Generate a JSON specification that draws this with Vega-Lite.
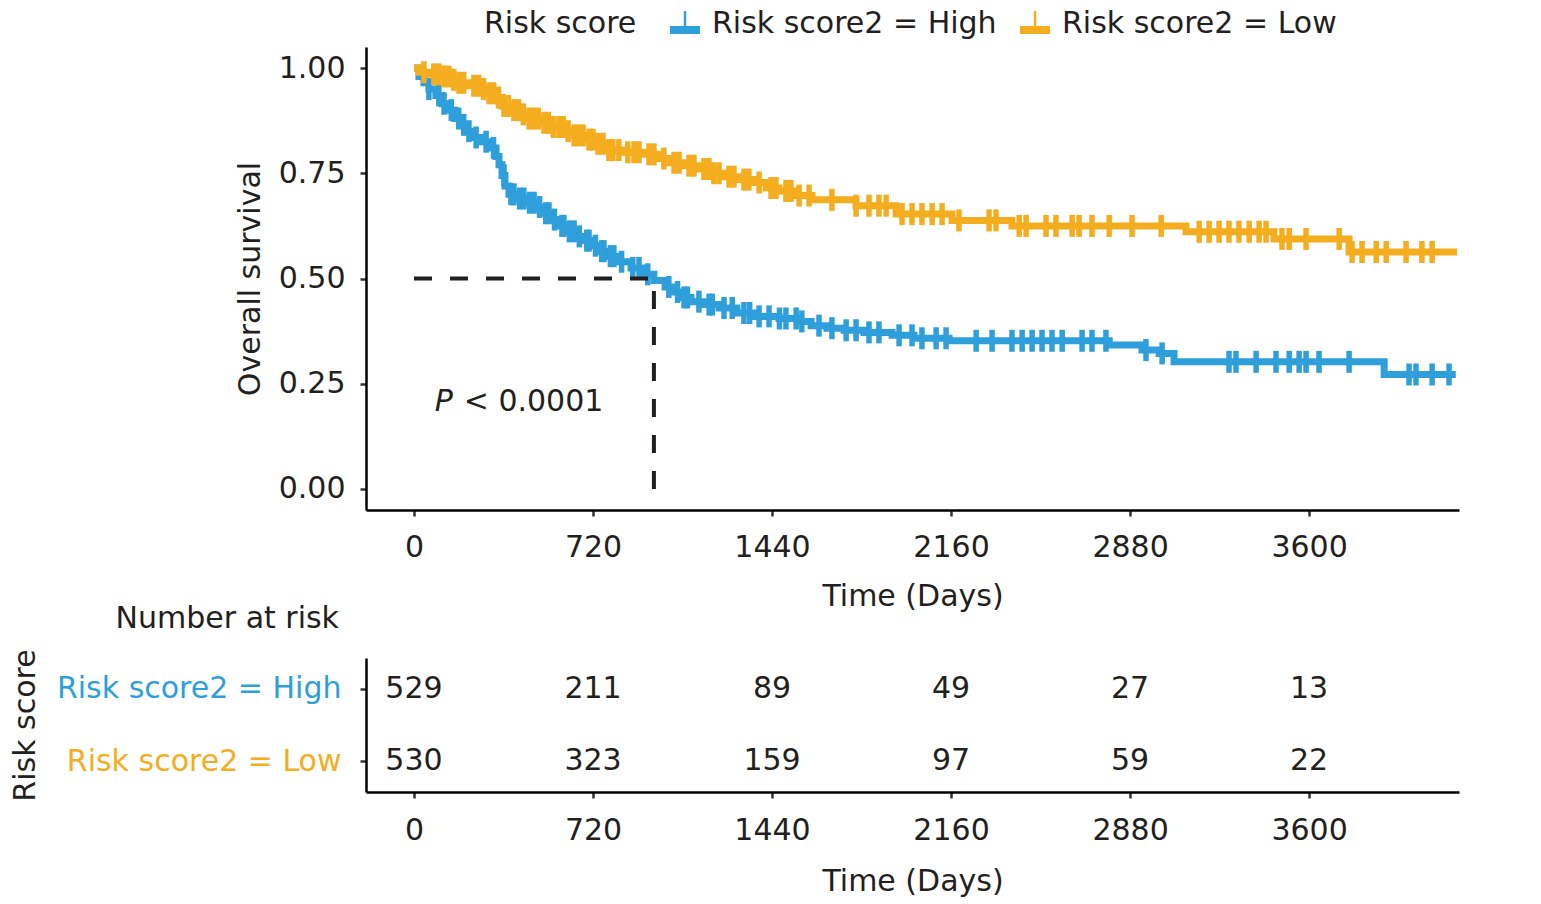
{
  "$schema": "https://vega.github.io/schema/vega-lite/v6.json",
  "padding": {"left": 10, "top": 9, "right": 20, "bottom": 5},
  "background": "white",
  "bounds": "flush",
  "spacing": 148,
  "config": {
    "font": "DejaVu Sans",
    "view": {"stroke": null},
    "axis": {
      "grid": false,
      "domainColor": "#000000",
      "domainWidth": 2.5,
      "tickColor": "#333333",
      "tickWidth": 2.5,
      "tickSize": 6,
      "labelFont": "DejaVu Sans",
      "labelFontSize": 30,
      "labelColor": "#231f20",
      "labelLimit": 500,
      "maxExtent": 500,
      "titleFont": "DejaVu Sans",
      "titleFontSize": 30,
      "titleFontWeight": "normal",
      "titleColor": "#231f20"
    },
    "legend": {
      "labelFont": "DejaVu Sans",
      "labelFontSize": 30,
      "labelColor": "#231f20",
      "labelLimit": 500,
      "titleFont": "DejaVu Sans",
      "titleFontSize": 30,
      "titleFontWeight": "normal",
      "titleColor": "#231f20",
      "titleLimit": 500
    }
  },
  "datasets": {
    "curves": [
      {"g": "Risk score2 = High", "t": 0, "s": 1.0},
      {"g": "Risk score2 = High", "t": 20, "s": 0.98},
      {"g": "Risk score2 = High", "t": 40, "s": 0.965},
      {"g": "Risk score2 = High", "t": 60, "s": 0.95},
      {"g": "Risk score2 = High", "t": 88, "s": 0.935},
      {"g": "Risk score2 = High", "t": 113, "s": 0.915},
      {"g": "Risk score2 = High", "t": 141, "s": 0.9},
      {"g": "Risk score2 = High", "t": 165, "s": 0.88},
      {"g": "Risk score2 = High", "t": 189, "s": 0.865},
      {"g": "Risk score2 = High", "t": 213, "s": 0.85},
      {"g": "Risk score2 = High", "t": 241, "s": 0.835},
      {"g": "Risk score2 = High", "t": 270, "s": 0.825},
      {"g": "Risk score2 = High", "t": 302, "s": 0.81},
      {"g": "Risk score2 = High", "t": 330, "s": 0.79},
      {"g": "Risk score2 = High", "t": 342, "s": 0.77},
      {"g": "Risk score2 = High", "t": 354, "s": 0.745},
      {"g": "Risk score2 = High", "t": 366, "s": 0.72},
      {"g": "Risk score2 = High", "t": 382, "s": 0.70},
      {"g": "Risk score2 = High", "t": 414, "s": 0.69},
      {"g": "Risk score2 = High", "t": 455, "s": 0.68},
      {"g": "Risk score2 = High", "t": 495, "s": 0.67},
      {"g": "Risk score2 = High", "t": 523, "s": 0.655},
      {"g": "Risk score2 = High", "t": 551, "s": 0.64},
      {"g": "Risk score2 = High", "t": 583, "s": 0.625},
      {"g": "Risk score2 = High", "t": 615, "s": 0.612},
      {"g": "Risk score2 = High", "t": 652, "s": 0.6},
      {"g": "Risk score2 = High", "t": 684, "s": 0.59},
      {"g": "Risk score2 = High", "t": 716, "s": 0.578},
      {"g": "Risk score2 = High", "t": 744, "s": 0.565},
      {"g": "Risk score2 = High", "t": 784, "s": 0.553},
      {"g": "Risk score2 = High", "t": 824, "s": 0.54},
      {"g": "Risk score2 = High", "t": 873, "s": 0.525},
      {"g": "Risk score2 = High", "t": 925, "s": 0.51},
      {"g": "Risk score2 = High", "t": 965, "s": 0.495},
      {"g": "Risk score2 = High", "t": 1010, "s": 0.48},
      {"g": "Risk score2 = High", "t": 1046, "s": 0.468},
      {"g": "Risk score2 = High", "t": 1078, "s": 0.455},
      {"g": "Risk score2 = High", "t": 1114, "s": 0.445},
      {"g": "Risk score2 = High", "t": 1166, "s": 0.438},
      {"g": "Risk score2 = High", "t": 1227, "s": 0.43},
      {"g": "Risk score2 = High", "t": 1299, "s": 0.418},
      {"g": "Risk score2 = High", "t": 1368, "s": 0.41},
      {"g": "Risk score2 = High", "t": 1468, "s": 0.405},
      {"g": "Risk score2 = High", "t": 1549, "s": 0.398},
      {"g": "Risk score2 = High", "t": 1597, "s": 0.388},
      {"g": "Risk score2 = High", "t": 1661, "s": 0.382},
      {"g": "Risk score2 = High", "t": 1730, "s": 0.377},
      {"g": "Risk score2 = High", "t": 1810, "s": 0.372},
      {"g": "Risk score2 = High", "t": 1923, "s": 0.365},
      {"g": "Risk score2 = High", "t": 2011, "s": 0.358},
      {"g": "Risk score2 = High", "t": 2152, "s": 0.352},
      {"g": "Risk score2 = High", "t": 2796, "s": 0.342},
      {"g": "Risk score2 = High", "t": 2928, "s": 0.33},
      {"g": "Risk score2 = High", "t": 2997, "s": 0.322},
      {"g": "Risk score2 = High", "t": 3057, "s": 0.302},
      {"g": "Risk score2 = High", "t": 3902, "s": 0.272},
      {"g": "Risk score2 = High", "t": 4190, "s": 0.272},
      {"g": "Risk score2 = Low", "t": 0, "s": 1.0},
      {"g": "Risk score2 = Low", "t": 20, "s": 0.99},
      {"g": "Risk score2 = Low", "t": 60, "s": 0.985},
      {"g": "Risk score2 = Low", "t": 101, "s": 0.98},
      {"g": "Risk score2 = Low", "t": 149, "s": 0.972},
      {"g": "Risk score2 = Low", "t": 181, "s": 0.965},
      {"g": "Risk score2 = Low", "t": 221, "s": 0.958},
      {"g": "Risk score2 = Low", "t": 261, "s": 0.95},
      {"g": "Risk score2 = Low", "t": 302, "s": 0.94},
      {"g": "Risk score2 = Low", "t": 330, "s": 0.93},
      {"g": "Risk score2 = Low", "t": 354, "s": 0.91},
      {"g": "Risk score2 = Low", "t": 382, "s": 0.9},
      {"g": "Risk score2 = Low", "t": 422, "s": 0.89},
      {"g": "Risk score2 = Low", "t": 463, "s": 0.88},
      {"g": "Risk score2 = Low", "t": 503, "s": 0.87},
      {"g": "Risk score2 = Low", "t": 551, "s": 0.86},
      {"g": "Risk score2 = Low", "t": 603, "s": 0.85},
      {"g": "Risk score2 = Low", "t": 644, "s": 0.84},
      {"g": "Risk score2 = Low", "t": 684, "s": 0.83},
      {"g": "Risk score2 = Low", "t": 724, "s": 0.82},
      {"g": "Risk score2 = Low", "t": 764, "s": 0.805},
      {"g": "Risk score2 = Low", "t": 845, "s": 0.80},
      {"g": "Risk score2 = Low", "t": 925, "s": 0.795},
      {"g": "Risk score2 = Low", "t": 985, "s": 0.785},
      {"g": "Risk score2 = Low", "t": 1026, "s": 0.775},
      {"g": "Risk score2 = Low", "t": 1086, "s": 0.768},
      {"g": "Risk score2 = Low", "t": 1146, "s": 0.76},
      {"g": "Risk score2 = Low", "t": 1195, "s": 0.75},
      {"g": "Risk score2 = Low", "t": 1247, "s": 0.742},
      {"g": "Risk score2 = Low", "t": 1307, "s": 0.735},
      {"g": "Risk score2 = Low", "t": 1368, "s": 0.728},
      {"g": "Risk score2 = Low", "t": 1416, "s": 0.715},
      {"g": "Risk score2 = Low", "t": 1468, "s": 0.708},
      {"g": "Risk score2 = Low", "t": 1537, "s": 0.697},
      {"g": "Risk score2 = Low", "t": 1601, "s": 0.687},
      {"g": "Risk score2 = Low", "t": 1778, "s": 0.673},
      {"g": "Risk score2 = Low", "t": 1939, "s": 0.653},
      {"g": "Risk score2 = Low", "t": 2164, "s": 0.638},
      {"g": "Risk score2 = Low", "t": 2405, "s": 0.625},
      {"g": "Risk score2 = Low", "t": 3105, "s": 0.611},
      {"g": "Risk score2 = Low", "t": 3459, "s": 0.594},
      {"g": "Risk score2 = Low", "t": 3761, "s": 0.563},
      {"g": "Risk score2 = Low", "t": 4195, "s": 0.563}
    ],
    "censor": [
      {"g": "Risk score2 = High", "t": 60, "s": 0.95},
      {"g": "Risk score2 = High", "t": 100, "s": 0.935},
      {"g": "Risk score2 = High", "t": 121, "s": 0.915},
      {"g": "Risk score2 = High", "t": 150, "s": 0.9},
      {"g": "Risk score2 = High", "t": 180, "s": 0.88},
      {"g": "Risk score2 = High", "t": 200, "s": 0.865},
      {"g": "Risk score2 = High", "t": 221, "s": 0.85},
      {"g": "Risk score2 = High", "t": 250, "s": 0.835},
      {"g": "Risk score2 = High", "t": 290, "s": 0.825},
      {"g": "Risk score2 = High", "t": 320, "s": 0.81},
      {"g": "Risk score2 = High", "t": 362, "s": 0.745},
      {"g": "Risk score2 = High", "t": 390, "s": 0.70},
      {"g": "Risk score2 = High", "t": 402, "s": 0.70},
      {"g": "Risk score2 = High", "t": 425, "s": 0.69},
      {"g": "Risk score2 = High", "t": 442, "s": 0.69},
      {"g": "Risk score2 = High", "t": 465, "s": 0.68},
      {"g": "Risk score2 = High", "t": 483, "s": 0.68},
      {"g": "Risk score2 = High", "t": 505, "s": 0.67},
      {"g": "Risk score2 = High", "t": 530, "s": 0.655},
      {"g": "Risk score2 = High", "t": 543, "s": 0.655},
      {"g": "Risk score2 = High", "t": 565, "s": 0.64},
      {"g": "Risk score2 = High", "t": 595, "s": 0.625},
      {"g": "Risk score2 = High", "t": 603, "s": 0.625},
      {"g": "Risk score2 = High", "t": 625, "s": 0.612},
      {"g": "Risk score2 = High", "t": 644, "s": 0.612},
      {"g": "Risk score2 = High", "t": 665, "s": 0.6},
      {"g": "Risk score2 = High", "t": 695, "s": 0.59},
      {"g": "Risk score2 = High", "t": 704, "s": 0.59},
      {"g": "Risk score2 = High", "t": 730, "s": 0.578},
      {"g": "Risk score2 = High", "t": 755, "s": 0.565},
      {"g": "Risk score2 = High", "t": 764, "s": 0.565},
      {"g": "Risk score2 = High", "t": 790, "s": 0.553},
      {"g": "Risk score2 = High", "t": 804, "s": 0.553},
      {"g": "Risk score2 = High", "t": 835, "s": 0.54},
      {"g": "Risk score2 = High", "t": 880, "s": 0.525},
      {"g": "Risk score2 = High", "t": 905, "s": 0.525},
      {"g": "Risk score2 = High", "t": 940, "s": 0.51},
      {"g": "Risk score2 = High", "t": 1025, "s": 0.48},
      {"g": "Risk score2 = High", "t": 1060, "s": 0.468},
      {"g": "Risk score2 = High", "t": 1086, "s": 0.455},
      {"g": "Risk score2 = High", "t": 1100, "s": 0.455},
      {"g": "Risk score2 = High", "t": 1146, "s": 0.445},
      {"g": "Risk score2 = High", "t": 1187, "s": 0.438},
      {"g": "Risk score2 = High", "t": 1200, "s": 0.438},
      {"g": "Risk score2 = High", "t": 1247, "s": 0.43},
      {"g": "Risk score2 = High", "t": 1280, "s": 0.43},
      {"g": "Risk score2 = High", "t": 1327, "s": 0.418},
      {"g": "Risk score2 = High", "t": 1350, "s": 0.418},
      {"g": "Risk score2 = High", "t": 1388, "s": 0.41},
      {"g": "Risk score2 = High", "t": 1428, "s": 0.41},
      {"g": "Risk score2 = High", "t": 1470, "s": 0.405},
      {"g": "Risk score2 = High", "t": 1496, "s": 0.405},
      {"g": "Risk score2 = High", "t": 1537, "s": 0.405},
      {"g": "Risk score2 = High", "t": 1560, "s": 0.398},
      {"g": "Risk score2 = High", "t": 1629, "s": 0.388},
      {"g": "Risk score2 = High", "t": 1681, "s": 0.382},
      {"g": "Risk score2 = High", "t": 1738, "s": 0.377},
      {"g": "Risk score2 = High", "t": 1778, "s": 0.377},
      {"g": "Risk score2 = High", "t": 1830, "s": 0.372},
      {"g": "Risk score2 = High", "t": 1870, "s": 0.372},
      {"g": "Risk score2 = High", "t": 1951, "s": 0.365},
      {"g": "Risk score2 = High", "t": 2003, "s": 0.365},
      {"g": "Risk score2 = High", "t": 2043, "s": 0.358},
      {"g": "Risk score2 = High", "t": 2100, "s": 0.358},
      {"g": "Risk score2 = High", "t": 2140, "s": 0.358},
      {"g": "Risk score2 = High", "t": 2261, "s": 0.352},
      {"g": "Risk score2 = High", "t": 2325, "s": 0.352},
      {"g": "Risk score2 = High", "t": 2405, "s": 0.352},
      {"g": "Risk score2 = High", "t": 2446, "s": 0.352},
      {"g": "Risk score2 = High", "t": 2486, "s": 0.352},
      {"g": "Risk score2 = High", "t": 2526, "s": 0.352},
      {"g": "Risk score2 = High", "t": 2566, "s": 0.352},
      {"g": "Risk score2 = High", "t": 2607, "s": 0.352},
      {"g": "Risk score2 = High", "t": 2687, "s": 0.352},
      {"g": "Risk score2 = High", "t": 2727, "s": 0.352},
      {"g": "Risk score2 = High", "t": 2783, "s": 0.352},
      {"g": "Risk score2 = High", "t": 2944, "s": 0.33},
      {"g": "Risk score2 = High", "t": 3009, "s": 0.322},
      {"g": "Risk score2 = High", "t": 3278, "s": 0.302},
      {"g": "Risk score2 = High", "t": 3306, "s": 0.302},
      {"g": "Risk score2 = High", "t": 3387, "s": 0.302},
      {"g": "Risk score2 = High", "t": 3467, "s": 0.302},
      {"g": "Risk score2 = High", "t": 3520, "s": 0.302},
      {"g": "Risk score2 = High", "t": 3560, "s": 0.302},
      {"g": "Risk score2 = High", "t": 3588, "s": 0.302},
      {"g": "Risk score2 = High", "t": 3640, "s": 0.302},
      {"g": "Risk score2 = High", "t": 3761, "s": 0.302},
      {"g": "Risk score2 = High", "t": 4002, "s": 0.272},
      {"g": "Risk score2 = High", "t": 4030, "s": 0.272},
      {"g": "Risk score2 = High", "t": 4095, "s": 0.272},
      {"g": "Risk score2 = High", "t": 4163, "s": 0.272},
      {"g": "Risk score2 = Low", "t": 40, "s": 0.99},
      {"g": "Risk score2 = Low", "t": 80, "s": 0.985},
      {"g": "Risk score2 = Low", "t": 100, "s": 0.985},
      {"g": "Risk score2 = Low", "t": 121, "s": 0.98},
      {"g": "Risk score2 = Low", "t": 140, "s": 0.98},
      {"g": "Risk score2 = Low", "t": 160, "s": 0.972},
      {"g": "Risk score2 = Low", "t": 181, "s": 0.965},
      {"g": "Risk score2 = Low", "t": 200, "s": 0.965},
      {"g": "Risk score2 = Low", "t": 241, "s": 0.958},
      {"g": "Risk score2 = Low", "t": 260, "s": 0.958},
      {"g": "Risk score2 = Low", "t": 280, "s": 0.95},
      {"g": "Risk score2 = Low", "t": 302, "s": 0.94},
      {"g": "Risk score2 = Low", "t": 320, "s": 0.94},
      {"g": "Risk score2 = Low", "t": 340, "s": 0.93},
      {"g": "Risk score2 = Low", "t": 362, "s": 0.91},
      {"g": "Risk score2 = Low", "t": 380, "s": 0.91},
      {"g": "Risk score2 = Low", "t": 402, "s": 0.9},
      {"g": "Risk score2 = Low", "t": 420, "s": 0.9},
      {"g": "Risk score2 = Low", "t": 440, "s": 0.89},
      {"g": "Risk score2 = Low", "t": 463, "s": 0.88},
      {"g": "Risk score2 = Low", "t": 480, "s": 0.88},
      {"g": "Risk score2 = Low", "t": 500, "s": 0.88},
      {"g": "Risk score2 = Low", "t": 523, "s": 0.87},
      {"g": "Risk score2 = Low", "t": 540, "s": 0.87},
      {"g": "Risk score2 = Low", "t": 560, "s": 0.86},
      {"g": "Risk score2 = Low", "t": 583, "s": 0.86},
      {"g": "Risk score2 = Low", "t": 600, "s": 0.86},
      {"g": "Risk score2 = Low", "t": 620, "s": 0.85},
      {"g": "Risk score2 = Low", "t": 644, "s": 0.84},
      {"g": "Risk score2 = Low", "t": 660, "s": 0.84},
      {"g": "Risk score2 = Low", "t": 680, "s": 0.84},
      {"g": "Risk score2 = Low", "t": 704, "s": 0.83},
      {"g": "Risk score2 = Low", "t": 720, "s": 0.83},
      {"g": "Risk score2 = Low", "t": 740, "s": 0.82},
      {"g": "Risk score2 = Low", "t": 760, "s": 0.82},
      {"g": "Risk score2 = Low", "t": 784, "s": 0.805},
      {"g": "Risk score2 = Low", "t": 800, "s": 0.805},
      {"g": "Risk score2 = Low", "t": 824, "s": 0.805},
      {"g": "Risk score2 = Low", "t": 860, "s": 0.80},
      {"g": "Risk score2 = Low", "t": 885, "s": 0.80},
      {"g": "Risk score2 = Low", "t": 905, "s": 0.80},
      {"g": "Risk score2 = Low", "t": 945, "s": 0.795},
      {"g": "Risk score2 = Low", "t": 965, "s": 0.795},
      {"g": "Risk score2 = Low", "t": 1005, "s": 0.785},
      {"g": "Risk score2 = Low", "t": 1046, "s": 0.775},
      {"g": "Risk score2 = Low", "t": 1066, "s": 0.775},
      {"g": "Risk score2 = Low", "t": 1106, "s": 0.768},
      {"g": "Risk score2 = Low", "t": 1126, "s": 0.768},
      {"g": "Risk score2 = Low", "t": 1166, "s": 0.76},
      {"g": "Risk score2 = Low", "t": 1186, "s": 0.76},
      {"g": "Risk score2 = Low", "t": 1206, "s": 0.75},
      {"g": "Risk score2 = Low", "t": 1227, "s": 0.75},
      {"g": "Risk score2 = Low", "t": 1267, "s": 0.742},
      {"g": "Risk score2 = Low", "t": 1287, "s": 0.742},
      {"g": "Risk score2 = Low", "t": 1327, "s": 0.735},
      {"g": "Risk score2 = Low", "t": 1347, "s": 0.735},
      {"g": "Risk score2 = Low", "t": 1388, "s": 0.728},
      {"g": "Risk score2 = Low", "t": 1436, "s": 0.715},
      {"g": "Risk score2 = Low", "t": 1456, "s": 0.715},
      {"g": "Risk score2 = Low", "t": 1496, "s": 0.708},
      {"g": "Risk score2 = Low", "t": 1516, "s": 0.708},
      {"g": "Risk score2 = Low", "t": 1549, "s": 0.697},
      {"g": "Risk score2 = Low", "t": 1589, "s": 0.697},
      {"g": "Risk score2 = Low", "t": 1681, "s": 0.687},
      {"g": "Risk score2 = Low", "t": 1778, "s": 0.673},
      {"g": "Risk score2 = Low", "t": 1830, "s": 0.673},
      {"g": "Risk score2 = Low", "t": 1870, "s": 0.673},
      {"g": "Risk score2 = Low", "t": 1899, "s": 0.673},
      {"g": "Risk score2 = Low", "t": 1963, "s": 0.653},
      {"g": "Risk score2 = Low", "t": 2003, "s": 0.653},
      {"g": "Risk score2 = Low", "t": 2043, "s": 0.653},
      {"g": "Risk score2 = Low", "t": 2084, "s": 0.653},
      {"g": "Risk score2 = Low", "t": 2124, "s": 0.653},
      {"g": "Risk score2 = Low", "t": 2192, "s": 0.638},
      {"g": "Risk score2 = Low", "t": 2313, "s": 0.638},
      {"g": "Risk score2 = Low", "t": 2341, "s": 0.638},
      {"g": "Risk score2 = Low", "t": 2434, "s": 0.625},
      {"g": "Risk score2 = Low", "t": 2462, "s": 0.625},
      {"g": "Risk score2 = Low", "t": 2542, "s": 0.625},
      {"g": "Risk score2 = Low", "t": 2582, "s": 0.625},
      {"g": "Risk score2 = Low", "t": 2647, "s": 0.625},
      {"g": "Risk score2 = Low", "t": 2675, "s": 0.625},
      {"g": "Risk score2 = Low", "t": 2727, "s": 0.625},
      {"g": "Risk score2 = Low", "t": 2796, "s": 0.625},
      {"g": "Risk score2 = Low", "t": 2888, "s": 0.625},
      {"g": "Risk score2 = Low", "t": 3005, "s": 0.625},
      {"g": "Risk score2 = Low", "t": 3158, "s": 0.611},
      {"g": "Risk score2 = Low", "t": 3198, "s": 0.611},
      {"g": "Risk score2 = Low", "t": 3238, "s": 0.611},
      {"g": "Risk score2 = Low", "t": 3278, "s": 0.611},
      {"g": "Risk score2 = Low", "t": 3318, "s": 0.611},
      {"g": "Risk score2 = Low", "t": 3359, "s": 0.611},
      {"g": "Risk score2 = Low", "t": 3399, "s": 0.611},
      {"g": "Risk score2 = Low", "t": 3427, "s": 0.611},
      {"g": "Risk score2 = Low", "t": 3491, "s": 0.594},
      {"g": "Risk score2 = Low", "t": 3520, "s": 0.594},
      {"g": "Risk score2 = Low", "t": 3588, "s": 0.594},
      {"g": "Risk score2 = Low", "t": 3721, "s": 0.594},
      {"g": "Risk score2 = Low", "t": 3773, "s": 0.563},
      {"g": "Risk score2 = Low", "t": 3813, "s": 0.563},
      {"g": "Risk score2 = Low", "t": 3870, "s": 0.563},
      {"g": "Risk score2 = Low", "t": 3910, "s": 0.563},
      {"g": "Risk score2 = Low", "t": 3990, "s": 0.563},
      {"g": "Risk score2 = Low", "t": 4054, "s": 0.563},
      {"g": "Risk score2 = Low", "t": 4095, "s": 0.563}
    ],
    "median": [
      {"t": 0, "t2": 965, "s": 0.5, "s2": 0.5},
      {"t": 965, "t2": 965, "s": 0.0, "s2": 0.5}
    ],
    "pP": [{"t": 84, "s": 0.207, "label": "P"}],
    "pRest": [{"t": 200, "s": 0.207, "label": "< 0.0001"}],
    "risk": [
      {"g": "Risk score2 = High", "t": 0, "n": "529"},
      {"g": "Risk score2 = High", "t": 720, "n": "211"},
      {"g": "Risk score2 = High", "t": 1440, "n": "89"},
      {"g": "Risk score2 = High", "t": 2160, "n": "49"},
      {"g": "Risk score2 = High", "t": 2880, "n": "27"},
      {"g": "Risk score2 = High", "t": 3600, "n": "13"},
      {"g": "Risk score2 = Low", "t": 0, "n": "530"},
      {"g": "Risk score2 = Low", "t": 720, "n": "323"},
      {"g": "Risk score2 = Low", "t": 1440, "n": "159"},
      {"g": "Risk score2 = Low", "t": 2160, "n": "97"},
      {"g": "Risk score2 = Low", "t": 2880, "n": "59"},
      {"g": "Risk score2 = Low", "t": 3600, "n": "22"}
    ]
  },
  "vconcat": [
    {
      "width": 1093,
      "height": 463,
      "encoding": {
        "x": {
          "field": "t", "type": "quantitative",
          "scale": {"domain": [-193, 4203], "nice": false, "zero": false},
          "axis": {"values": [0, 720, 1440, 2160, 2880, 3600], "format": "d", "title": "Time (Days)", "labelPadding": 16, "titlePadding": 19}
        },
        "y": {
          "field": "s", "type": "quantitative",
          "scale": {"domain": [-0.05, 1.05], "nice": false, "zero": false},
          "axis": {"values": [0, 0.25, 0.5, 0.75, 1], "format": ".2f", "title": "Overall survival", "labelPadding": 15, "titlePadding": 13}
        }
      },
      "layer": [
        {
          "data": {"name": "curves"},
          "mark": {"type": "line", "interpolate": "step-after", "strokeWidth": 7},
          "encoding": {
            "color": {
              "field": "g", "type": "nominal",
              "scale": {"domain": ["Risk score2 = High", "Risk score2 = Low"], "range": ["#2E9FDA", "#F4AD1E"]},
              "legend": {
                "title": "Risk score",
                "orient": "none", "legendX": 118, "legendY": -38,
                "direction": "horizontal", "titleOrient": "left", "titlePadding": 33,
                "labelOffset": 12, "columnPadding": 23,
                "symbolType": "M-1,0.13H1V0.67H-1Z M-0.08,-0.87H0.08V0.13H-0.08Z",
                "symbolSize": 900,
                "encode": {"symbols": {"update": {"fill": {"scale": "color", "field": "value"}, "stroke": {"value": "transparent"}, "strokeWidth": {"value": 0}, "opacity": {"value": 1}}}}
              }
            }
          }
        },
        {
          "data": {"name": "censor"},
          "mark": {"type": "tick", "orient": "vertical", "size": 22, "thickness": 5.5, "opacity": 1},
          "encoding": {
            "color": {
              "field": "g", "type": "nominal",
              "scale": {"domain": ["Risk score2 = High", "Risk score2 = Low"], "range": ["#2E9FDA", "#F4AD1E"]},
              "legend": {
                "title": "Risk score",
                "orient": "none", "legendX": 118, "legendY": -38,
                "direction": "horizontal", "titleOrient": "left", "titlePadding": 33,
                "labelOffset": 12, "columnPadding": 23,
                "symbolType": "M-1,0.13H1V0.67H-1Z M-0.08,-0.87H0.08V0.13H-0.08Z",
                "symbolSize": 900,
                "encode": {"symbols": {"update": {"fill": {"scale": "color", "field": "value"}, "stroke": {"value": "transparent"}, "strokeWidth": {"value": 0}, "opacity": {"value": 1}}}}
              }
            }
          }
        },
        {
          "data": {"name": "median"},
          "mark": {"type": "rule", "strokeDash": [18, 18], "strokeWidth": 4, "color": "#231f20"},
          "encoding": {
            "x2": {"field": "t2"},
            "y2": {"field": "s2"}
          }
        },
        {
          "data": {"name": "pP"},
          "mark": {"type": "text", "align": "left", "baseline": "middle", "fontSize": 30, "fontStyle": "italic", "color": "#231f20"},
          "encoding": {"text": {"field": "label"}}
        },
        {
          "data": {"name": "pRest"},
          "mark": {"type": "text", "align": "left", "baseline": "middle", "fontSize": 30, "color": "#231f20"},
          "encoding": {"text": {"field": "label"}}
        }
      ]
    },
    {
      "width": 1093,
      "height": 134,
      "title": {"text": "Number at risk", "anchor": "start", "align": "right", "dx": -27, "offset": 15, "fontSize": 30, "font": "DejaVu Sans", "fontWeight": "normal", "color": "#231f20", "frame": "group"},
      "data": {"name": "risk"},
      "mark": {"type": "text", "fontSize": 30, "color": "#231f20", "baseline": "middle"},
      "encoding": {
        "x": {
          "field": "t", "type": "quantitative",
          "scale": {"domain": [-193, 4203], "nice": false, "zero": false},
          "axis": {"values": [0, 720, 1440, 2160, 2880, 3600], "format": "d", "title": "Time (Days)", "labelPadding": 17, "titlePadding": 21}
        },
        "y": {
          "field": "g", "type": "nominal",
          "scale": {"domain": ["Risk score2 = High", "Risk score2 = Low"], "padding": 0.43},
          "axis": {
            "title": "Risk score", "labelPadding": 19, "titlePadding": 16,
            "labelColor": {"condition": {"test": "datum.value === 'Risk score2 = High'", "value": "#2E9FDA"}, "value": "#F4AD1E"}
          }
        },
        "text": {"field": "n", "type": "nominal"}
      }
    }
  ]
}
